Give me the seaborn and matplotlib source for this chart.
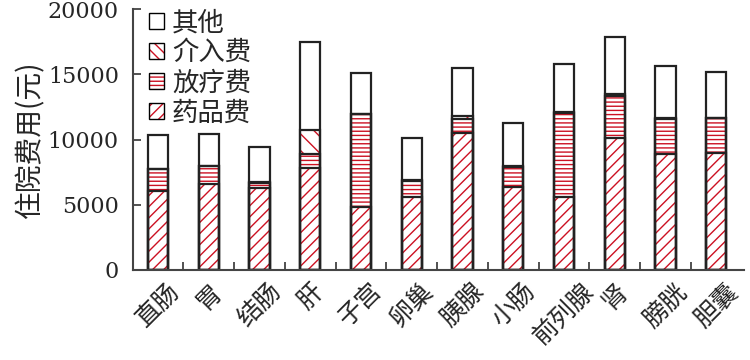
import pandas as pd
import matplotlib
matplotlib.use('Agg')
import matplotlib.pyplot as plt
import seaborn as sns
from matplotlib.patches import Patch

# 数据
categories = ['直肠', '胃', '结肠', '肝', '子宫', '卵巢', '胰腺', '小肠', '前列腺', '肾', '膀胱', '胆囊']
drug = [6050, 6610, 6260, 7790, 4850, 5610, 10470, 6380, 5570, 10130, 8890, 8990]
radio = [1660, 1360, 410, 1070, 7100, 1180, 1070, 1510, 6440, 3200, 2700, 2680]
interv = [0, 0, 100, 1860, 0, 100, 280, 100, 120, 150, 80, 0]
other = [2630, 2420, 2680, 6740, 3120, 3240, 3630, 3250, 3650, 4350, 3980, 3520]
series_labels = ['药品费', '放疗费', '介入费', '其他']

RED = '#cc1122'
CN_FONT = ['Noto Sans CJK SC', 'DejaVu Sans']

sns.set_theme(style='white')
plt.rcParams['font.family'] = CN_FONT
plt.rcParams['hatch.linewidth'] = 1.0

df = pd.DataFrame({'部位': categories, '药品费': drug, '放疗费': radio,
                   '介入费': interv, '其他': other})
# 累计高度，用于堆叠
df['L1'] = df['药品费']
df['L2'] = df['L1'] + df['放疗费']
df['L3'] = df['L2'] + df['介入费']
df['L4'] = df['L3'] + df['其他']

fig = plt.figure(figsize=(7.5, 3.6), dpi=100)
ax = fig.add_axes([0.177, 0.25, 0.815, 0.725])

layers = [('L4', ''), ('L3', '\\\\'), ('L2', '----'), ('L1', '///')]
for col, hatch in layers:
    sns.barplot(data=df, x='部位', y=col, order=categories, color='white',
                width=0.4, hatch=hatch, edgecolor=RED, linewidth=0,
                errorbar=None, ax=ax)
for col, _ in layers:
    sns.barplot(data=df, x='部位', y=col, order=categories, fill=False,
                width=0.4, edgecolor='#222222', linewidth=1.6,
                errorbar=None, ax=ax)

ax.set_xlim(-0.5, len(categories) - 0.45)
ax.set_ylim(0, 20000)
ax.set_yticks([0, 5000, 10000, 15000, 20000])
ax.set_yticklabels(['0', '5000', '10000', '15000', '20000'],
                   family=['DejaVu Serif'], fontsize=16)
ax.set_xticks(range(len(categories)))
ax.set_xticklabels(categories, rotation=45, ha='center', va='top', fontsize=18)
ax.set_xticks([i + 0.5 for i in range(len(categories) - 1)], minor=True)
ax.tick_params(axis='x', which='major', length=0, pad=6)
ax.tick_params(axis='x', which='minor', direction='in', length=6, width=1.2,
               color='#333333', bottom=True)
ax.tick_params(axis='y', direction='in', length=6, width=1.2, color='#333333',
               left=True, pad=10)
ax.set_xlabel('')
ax.set_ylabel('住院费用(元)', fontsize=20, labelpad=2)

for side in ['top', 'right']:
    ax.spines[side].set_visible(False)
for side in ['left', 'bottom']:
    ax.spines[side].set_color('#444444')
    ax.spines[side].set_linewidth(1.5)

hatches = {'药品费': '///', '放疗费': '----', '介入费': '\\\\\\', '其他': ''}
handles = []
for name in series_labels[::-1]:
    h_fill = Patch(facecolor='white', edgecolor=RED, hatch=hatches[name], linewidth=0)
    h_edge = Patch(fill=False, edgecolor='black', linewidth=1.0)
    handles.append((h_fill, h_edge))
ax.legend(handles, series_labels[::-1], loc='upper left', bbox_to_anchor=(0.01, 1.04),
          frameon=False, fontsize=19, handlelength=0.55, handleheight=0.55,
          handletextpad=0.3, labelspacing=0.12, borderaxespad=0)

fig.savefig('out.png', dpi=100)
